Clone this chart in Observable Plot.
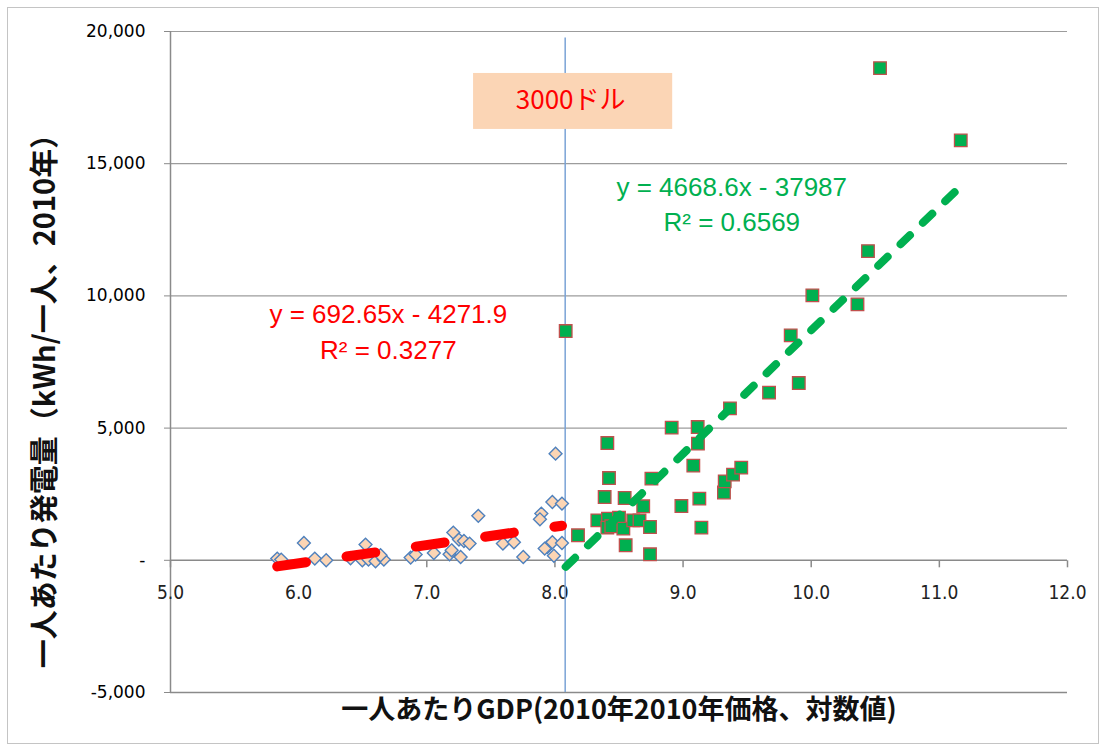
<!DOCTYPE html>
<html>
<head>
<meta charset="utf-8">
<script src="https://cdn.jsdelivr.net/npm/d3@7"></script>
<script src="https://cdn.jsdelivr.net/npm/@observablehq/plot@0.6"></script>
<style>
  body { margin: 0; background: #fff; }
  #wrap { position: relative; width: 1105px; height: 751px; }
  #wrap .border { position: absolute; left: 7px; top: 7px; width: 1092px; height: 737px;
                  border: 1px solid #c4c4c4; pointer-events: none; box-sizing: border-box; }
</style>
</head>
<body>
<div id="wrap"><div class="border"></div></div>
<script>
// Countries below the threshold: log GDP per capita and kWh per capita (2010)
const gdpLow = [5.833, 5.864, 6.041, 6.126, 6.215, 6.405, 6.522, 6.497, 6.545, 6.600, 6.665, 6.639,
  6.874, 6.913, 7.055, 7.178, 7.194, 7.207, 7.264, 7.251, 7.290, 7.334, 7.402, 7.594, 7.680, 7.753,
  7.894, 7.883, 7.980, 8.055, 8.005, 7.941, 7.980, 7.920, 8.055, 7.992];
const kwhLow = [64, 26, 654, 64, 0, 76, 594, 0, 26, -38, 26, 189,
  102, 215, 276, 227, 378, 1047, 125, 783, 730, 631, 1682, 631, 681, 125,
  1766, 1550, 2204, 2144, 4034, 503, 681, 442, 654, 170];

// Countries above the threshold
const gdpHigh = [8.084, 8.180, 8.331, 8.388, 8.409, 8.422, 8.414, 8.500, 8.409, 8.440, 8.534, 8.544,
  8.552, 8.611, 8.660, 8.689, 8.742, 8.742, 8.753, 8.911, 8.987, 9.080, 9.116, 9.114, 9.127, 9.143,
  9.319, 9.325, 9.390, 9.454, 9.366, 9.671, 9.840, 9.903, 10.009, 10.361, 10.443, 10.537, 11.167];
const kwhHigh = [8670, 945, 1512, 2393, 4435, 3112, 1577, 1614, 1236, 1286, 1199, 2356,
  567, 1512, 1512, 2042, 1259, 227, 3089, 5017, 2053, 3581, 4412, 5040, 2333, 1236,
  2564, 2987, 3240, 3505, 5747, 6341, 8507, 6704, 10020, 9679, 11695, 18614, 15880];

// Linear trend fits (slope, intercept, R²)
const fitLow = {slope: 692.65, intercept: -4271.9, r2: "0.3277"};
const fitHigh = {slope: 4668.6, intercept: -37987, r2: "0.6569"};

// Axis ticks
const xTicks = [5, 6, 7, 8, 9, 10, 11, 12];
const yTicks = [-5000, 0, 5000, 10000, 15000, 20000];
const yGrid = [5000, 10000, 15000, 20000];

// 3000-dollar threshold marker and its label
const thresholdX = 8.08;
const thresholdTop = 19750;
const thresholdLabel = "3000ドル";
const labelBox = {x1: 7.365, x2: 8.919, y1: 16296, y2: 18413, tx: 8.123, ty: 17393};
const eqLowPos = {x: 6.70, y: 8720};
const eqHighPos = {x: 9.38, y: 13540};

const xTitle = "一人あたりGDP(2010年2010年価格、対数値)";
const yTitle = "一人あたり発電量（kWh/一人、2010年）";

const low = gdpLow.map((x, i) => ({x, y: kwhLow[i]}));
const high = gdpHigh.map((x, i) => ({x, y: kwhHigh[i]}));

function trend(fit, xs) {
  const [a, b] = d3.extent(xs);
  return [a, b].map(x => ({x, y: fit.slope * x + fit.intercept}));
}
function eqText(fit) {
  const sign = fit.intercept < 0 ? " - " : " + ";
  return `y = ${fit.slope}x${sign}${Math.abs(fit.intercept)}\nR² = ${fit.r2}`;
}

const gridColor = "#9c9c9c";
const axisColor = "#8a8a8a";
const tickMark = {draw(ctx) { ctx.moveTo(0, 0); ctx.lineTo(0, 7); }};
const latin = "'Liberation Sans Narrow', 'DejaVu Sans Condensed', 'Liberation Sans', sans-serif";
const cjk = "'Noto Sans CJK JP', 'Noto Sans', sans-serif";

const chart = Plot.plot({
  width: 1105,
  height: 751,
  marginLeft: 170,
  marginRight: 38,
  marginTop: 31,
  marginBottom: 59,
  x: {domain: [5, 12], axis: null},
  y: {domain: [-5000, 20000]},
  style: {background: "transparent", overflow: "visible"},
  marks: [
    Plot.ruleY(yGrid, {stroke: gridColor, strokeWidth: 1.2}),
    Plot.ruleY([0, -5000], {stroke: axisColor, strokeWidth: 1.5}),
    Plot.ruleX([5], {stroke: axisColor, strokeWidth: 1.5}),
    Plot.axisY({
      ticks: yTicks,
      tickSize: 6,
      tickPadding: 19,
      stroke: axisColor,
      label: null,
      fontSize: 17,
      fontFamily: "'DejaVu Sans', sans-serif",
      letterSpacing: 2.5,
      tickFormat: d => d === 0 ? "-" : (d < 0 ? "-" : "") + d3.format(",")(Math.abs(d))
    }),
    Plot.dot(xTicks, {x: d => d, y: 0, symbol: tickMark, stroke: axisColor, strokeWidth: 1.5, fill: "none"}),
    Plot.text(xTicks, {x: d => d, y: 0, dy: 33, text: d => d.toFixed(1), fontSize: 19, fontFamily: latin, fill: "#222"}),
    // threshold line and label box
    Plot.ruleX([thresholdX], {y1: -5000, y2: thresholdTop, stroke: "#7aa3d6", strokeWidth: 1.5}),
    Plot.rect([labelBox], {x1: "x1", x2: "x2", y1: "y1", y2: "y2", fill: "#fbd5b5"}),
    Plot.text([labelBox], {x: "tx", y: "ty", text: () => thresholdLabel, fill: "#ff0000", fontSize: 26, fontFamily: cjk}),
    // observations
    Plot.dot(low, {x: "x", y: "y", symbol: "diamond2", r: 5.8, fill: "#fcd5b4", stroke: "#4f81bd", strokeWidth: 1.4}),
    Plot.dot(high, {x: "x", y: "y", symbol: "square", r: 7.1, fill: "#00b050", stroke: "#c0504d", strokeWidth: 1.3}),
    // trend lines
    Plot.line(trend(fitLow, gdpLow), {x: "x", y: "y", stroke: "#ff0000", strokeWidth: 10,
      strokeDasharray: "29 41", strokeLinecap: "round"}),
    Plot.line(trend(fitHigh, gdpHigh), {x: "x", y: "y", stroke: "#00b050", strokeWidth: 8,
      strokeDasharray: "13 18", strokeLinecap: "round"}),
    Plot.text([eqLowPos], {x: "x", y: "y", text: () => eqText(fitLow), fill: "#ff0000",
      fontSize: 26, lineHeight: 1.35, fontFamily: "'Liberation Sans', sans-serif"}),
    Plot.text([eqHighPos], {x: "x", y: "y", text: () => eqText(fitHigh), fill: "#00b050",
      fontSize: 26, lineHeight: 1.35, fontFamily: "'Liberation Sans', sans-serif"}),
    // axis titles
    Plot.text([xTitle], {frameAnchor: "bottom", dy: 26, text: d => d, fontSize: 27, fontWeight: "bold",
      letterSpacing: 0.7, fontFamily: cjk, fill: "#111"}),
    Plot.text([yTitle], {frameAnchor: "left", textAnchor: "middle", dx: -125, dy: 32, rotate: -90,
      text: d => d, fontSize: 29, fontWeight: "bold", letterSpacing: 2.2, fontFamily: cjk, fill: "#111"})
  ]
});
document.getElementById("wrap").prepend(chart);
</script>
</body>
</html>
